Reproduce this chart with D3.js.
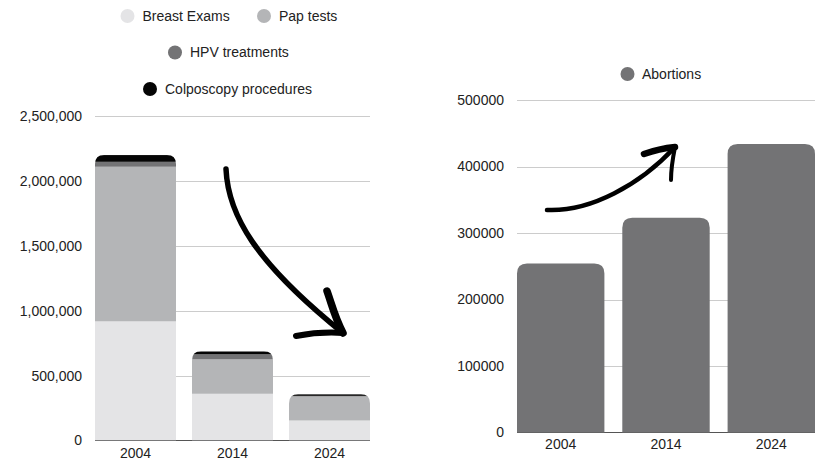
<!DOCTYPE html>
<html>
<head>
<meta charset="utf-8">
<script src="https://cdn.jsdelivr.net/npm/d3@7"></script>
<style>
  body { margin: 0; background: #fff; }
  svg { font-family: "Liberation Sans", Arial, sans-serif; }
</style>
</head>
<body>
<div id="chart"></div>
<script>
// ---- data ----
const years = ["2004", "2014", "2024"];
const seriesNames = ["Breast Exams", "Pap tests", "HPV treatments", "Colposcopy procedures"];
const seriesColors = ["#e4e4e6", "#b4b5b7", "#737375", "#050505"];
const breastExams = [918000, 360000, 154000];
const papTests = [1191000, 265000, 185000];
const hpvTreatments = [38000, 39000, 5000];
const colposcopy = [52000, 23000, 13000];
const leftTicks = [0, 500000, 1000000, 1500000, 2000000, 2500000];

const abortions = [254000, 323000, 434000];
const rightTicks = [0, 100000, 200000, 300000, 400000, 500000];

const width = 821, height = 461;
const svg = d3.select("#chart").append("svg")
  .attr("width", width)
  .attr("height", height);

// rounded-top bar path
function topRounded(x, y, w, h, r) {
  r = Math.min(r, h, w / 2);
  return `M${x},${y + h}V${y + r}Q${x},${y} ${x + r},${y}H${x + w - r}Q${x + w},${y} ${x + w},${y + r}V${y + h}Z`;
}

// ========== left: stacked bars ==========
const x1 = d3.scaleBand().domain(years).range([95, 370]).paddingInner(0.165).paddingOuter(0);
const y1 = d3.scaleLinear().domain([0, 2500000]).range([440.5, 116]);

svg.append("g")
  .selectAll("line")
  .data(leftTicks.slice(1))
  .enter().append("line")
  .attr("x1", 95).attr("x2", 370)
  .attr("y1", d => Math.round(y1(d)) + 0.5)
  .attr("y2", d => Math.round(y1(d)) + 0.5)
  .attr("stroke", "#cccccc");

svg.append("g")
  .attr("transform", "translate(82,0)")
  .call(d3.axisLeft(y1).tickValues(leftTicks).tickSize(0).tickPadding(0).tickFormat(d3.format(",")))
  .call(g => g.select(".domain").remove())
  .selectAll("text")
  .style("font-size", "14px")
  .attr("fill", "#222");

const stackData = years.map((yr, i) => ({
  year: yr,
  "Breast Exams": breastExams[i],
  "Pap tests": papTests[i],
  "HPV treatments": hpvTreatments[i],
  "Colposcopy procedures": colposcopy[i]
}));
const stacked = d3.stack().keys(seriesNames)(stackData);

const defs = svg.append("defs");
stackData.forEach((d, i) => {
  const total = d3.sum(seriesNames, k => d[k]);
  defs.append("clipPath").attr("id", "clip" + i)
    .append("path")
    .attr("d", topRounded(x1(d.year), y1(total), x1.bandwidth(), y1(0) - y1(total), 9));
});

svg.append("line")
  .attr("x1", 95).attr("x2", 370)
  .attr("y1", y1(0)).attr("y2", y1(0))
  .attr("stroke", "#555");

stacked.forEach((layer, li) => {
  svg.append("g")
    .selectAll("rect")
    .data(layer)
    .enter().append("rect")
    .attr("clip-path", (d, i) => `url(#clip${i})`)
    .attr("x", d => x1(d.data.year))
    .attr("y", d => y1(d[1]))
    .attr("width", x1.bandwidth())
    .attr("height", d => y1(d[0]) - y1(d[1]))
    .attr("fill", seriesColors[li]);
});

svg.append("g")
  .attr("transform", `translate(0,${y1(0)})`)
  .call(d3.axisBottom(x1).tickSize(0).tickPadding(8))
  .call(g => g.select(".domain").remove())
  .selectAll("text")
  .style("font-size", "14px")
  .attr("fill", "#222");

// left legend
const legendItems = [
  { name: "Breast Exams", cx: 127.5, cy: 16 },
  { name: "Pap tests", cx: 264, cy: 16 },
  { name: "HPV treatments", cx: 175, cy: 52.5 },
  { name: "Colposcopy procedures", cx: 150, cy: 89 }
];
legendItems.forEach((d, i) => {
  svg.append("circle").attr("cx", d.cx).attr("cy", d.cy).attr("r", 7).attr("fill", seriesColors[i]);
  svg.append("text").attr("x", d.cx + 15).attr("y", d.cy).attr("dy", "0.35em")
    .style("font-size", "14px").attr("fill", "#222").text(d.name);
});

// ========== right: abortions ==========
const x2 = d3.scaleBand().domain(years).range([517, 815]).paddingInner(0.17).paddingOuter(0);
const y2 = d3.scaleLinear().domain([0, 500000]).range([432.5, 100]);

svg.append("g")
  .selectAll("line")
  .data(rightTicks.slice(1))
  .enter().append("line")
  .attr("x1", 517).attr("x2", 815)
  .attr("y1", d => Math.round(y2(d)) + 0.5)
  .attr("y2", d => Math.round(y2(d)) + 0.5)
  .attr("stroke", "#cccccc");

svg.append("line")
  .attr("x1", 517).attr("x2", 815)
  .attr("y1", y2(0)).attr("y2", y2(0))
  .attr("stroke", "#555");

svg.append("g")
  .attr("transform", "translate(504,0)")
  .call(d3.axisLeft(y2).tickValues(rightTicks).tickSize(0).tickPadding(0).tickFormat(d3.format("d")))
  .call(g => g.select(".domain").remove())
  .selectAll("text")
  .style("font-size", "14px")
  .attr("fill", "#222");

svg.append("g")
  .selectAll("path")
  .data(abortions)
  .enter().append("path")
  .attr("d", (d, i) => topRounded(x2(years[i]), y2(d), x2.bandwidth(), y2(0) - y2(d), 10))
  .attr("fill", "#737375");

svg.append("g")
  .attr("transform", `translate(0,${y2(0)})`)
  .call(d3.axisBottom(x2).tickSize(0).tickPadding(7))
  .call(g => g.select(".domain").remove())
  .selectAll("text")
  .style("font-size", "14px")
  .attr("fill", "#222");

svg.append("circle").attr("cx", 627.5).attr("cy", 74).attr("r", 7).attr("fill", "#737375");
svg.append("text").attr("x", 642).attr("y", 74).attr("dy", "0.35em")
  .style("font-size", "14px").attr("fill", "#222").text("Abortions");

// ========== hand-drawn arrows ==========
const ink = svg.append("g")
  .attr("fill", "none")
  .attr("stroke", "#000")
  .attr("stroke-linecap", "round")
  .attr("stroke-linejoin", "round");

ink.append("path").attr("stroke-width", 5.5)
  .attr("d", "M226,169 C228,215 255,262 343,333");
ink.append("path").attr("stroke-width", 7.5)
  .attr("d", "M327,291 C332,305 335,318 343,333");
ink.append("path").attr("stroke-width", 6)
  .attr("d", "M296,336 C312,333 328,332 343,333");

ink.append("path").attr("stroke-width", 4.5)
  .attr("d", "M547,210 C590,212 640,185 675,147");
ink.append("path").attr("stroke-width", 6.5)
  .attr("d", "M644,154 C655,150 665,148 675,147");
ink.append("path").attr("stroke-width", 4)
  .attr("d", "M671,180 C671,168 673,157 675,147");
</script>
</body>
</html>
